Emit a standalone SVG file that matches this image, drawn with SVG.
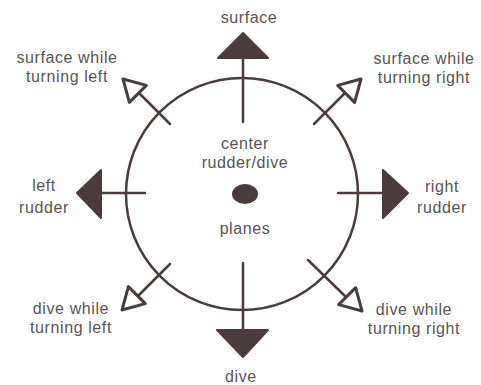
<svg xmlns="http://www.w3.org/2000/svg" width="481" height="385" viewBox="0 0 481 385">
<defs>
<style>
.lbl{font-family:"Liberation Sans",Arial,sans-serif;font-size:16px;letter-spacing:0.6px;fill:#5a5454;text-anchor:middle}
.ln{stroke:#4a3c3c;stroke-width:2.5;fill:none;stroke-linecap:round}
.solid{fill:#4a3c3c;stroke:#4a3c3c;stroke-width:2;stroke-linejoin:round}
.open{fill:#fff;stroke:#4a3c3c;stroke-width:3;stroke-linejoin:round}
</style>
<polygon id="openhead" points="0,0 -21,-12 -21,12"/>
</defs>
<rect width="481" height="385" fill="#fff"/>
<g id="connectors">
<circle class="ln" cx="242" cy="194" r="116"/>
<line class="ln" x1="243" y1="56" x2="243" y2="122"/>
<line class="ln" x1="243" y1="263" x2="243" y2="332"/>
<line class="ln" x1="99" y1="193" x2="145" y2="193"/>
<line class="ln" x1="338" y1="193" x2="385" y2="193"/>
<line class="ln" x1="170" y1="124" x2="138" y2="92"/>
<line class="ln" x1="314" y1="124" x2="346" y2="92"/>
<line class="ln" x1="170" y1="264" x2="138" y2="296"/>
<line class="ln" x1="308" y1="260" x2="347" y2="298"/>
</g>
<g id="surface">
<polygon class="solid" points="243,33 218,58 268,58"/>
<text class="lbl" x="249" y="23">surface</text>
</g>
<g id="dive">
<polygon class="solid" points="217,330 268,330 243,357"/>
<text class="lbl" x="241" y="382">dive</text>
</g>
<g id="left-rudder">
<polygon class="solid" points="77,193 101,170 101,218"/>
<text class="lbl" x="44" y="191">left</text>
<text class="lbl" x="44" y="213">rudder</text>
</g>
<g id="right-rudder">
<polygon class="solid" points="408,193 383,170 383,218"/>
<text class="lbl" x="442" y="192">right</text>
<text class="lbl" x="442" y="213">rudder</text>
</g>
<g id="surface-left">
<use href="#openhead" class="open" transform="translate(123,79) rotate(-135)"/>
<text class="lbl" x="67" y="63">surface while</text>
<text class="lbl" x="67" y="82">turning left</text>
</g>
<g id="surface-right">
<use href="#openhead" class="open" transform="translate(361,79) rotate(-45)"/>
<text class="lbl" x="424" y="64">surface while</text>
<text class="lbl" x="424" y="83">turning right</text>
</g>
<g id="dive-left">
<use href="#openhead" class="open" transform="translate(122,310) rotate(135)"/>
<text class="lbl" x="71" y="314">dive while</text>
<text class="lbl" x="71" y="333">turning left</text>
</g>
<g id="dive-right">
<use href="#openhead" class="open" transform="translate(362,311) rotate(45)"/>
<text class="lbl" x="414" y="315">dive while</text>
<text class="lbl" x="414" y="334">turning right</text>
</g>
<g id="center">
<text class="lbl" x="245" y="149">center</text>
<text class="lbl" x="245" y="168">rudder/dive</text>
<ellipse cx="245" cy="194" rx="13" ry="10" fill="#4a3c3c"/>
<text class="lbl" x="245" y="234">planes</text>
</g>
</svg>
